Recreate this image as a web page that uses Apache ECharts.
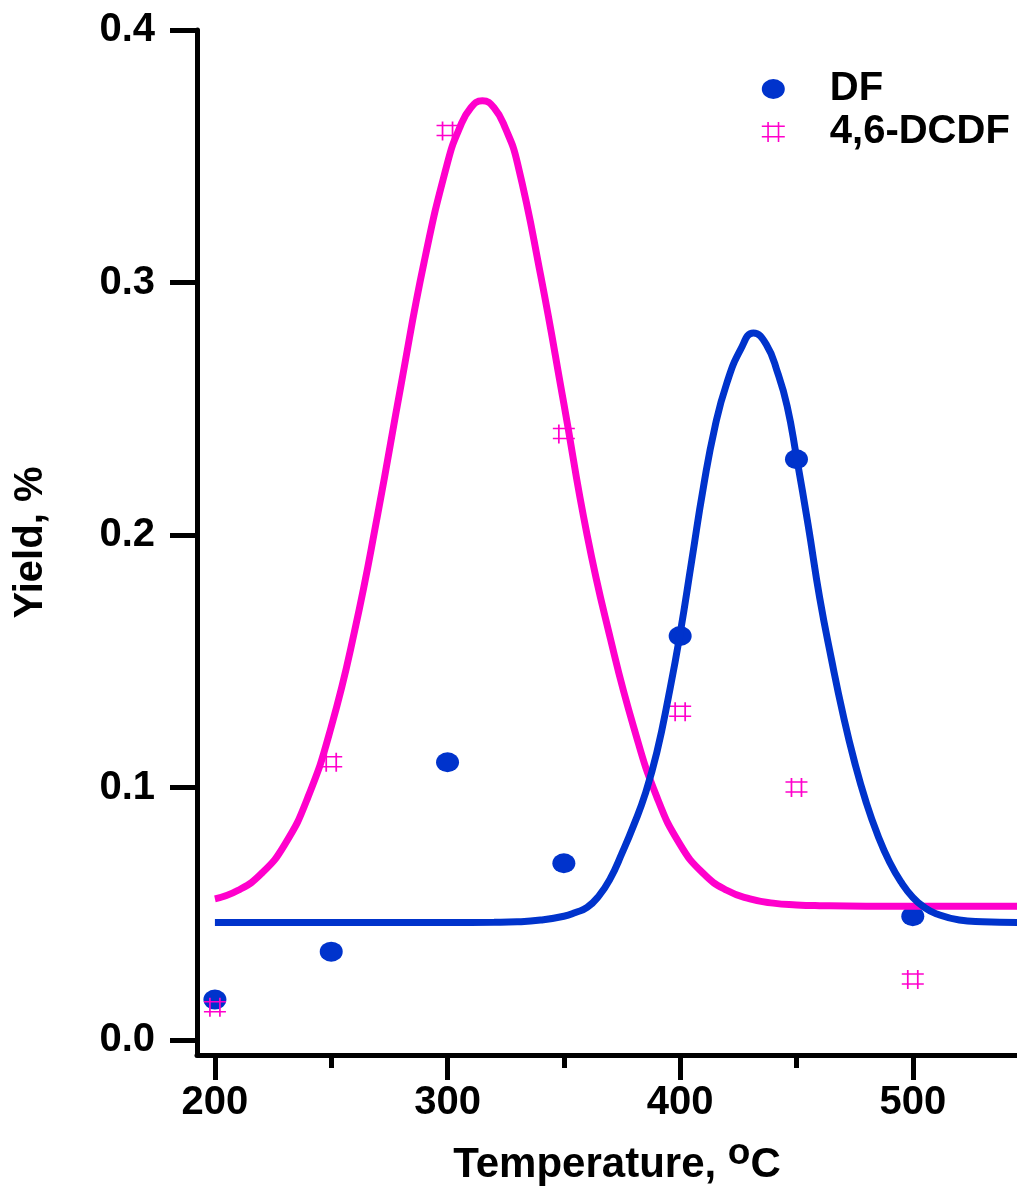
<!DOCTYPE html>
<html>
<head>
	<meta charset="UTF-8">
	<title>Yield vs temperature</title>
	<script src="https://cdn.jsdelivr.net/npm/echarts@6/dist/echarts.min.js"></script>
	<style>
		html, body { margin: 0; padding: 0; background: #fff; }
		#main { width: 1017px; height: 1190px; }
	</style>
</head>
<body>
	<div id="main"></div>
	<script type="text/javascript">
		// measured points
		var tempPoints = [200, 250, 300, 350, 400, 450, 500];
		var dfYield = [0.016, 0.035, 0.110, 0.070, 0.160, 0.230, 0.049];
		var dcdfYield = [0.013, 0.110, 0.360, 0.240, 0.130, 0.100, 0.024];

		// fitted curves
		var dfFitTemp = [200, 300, 320, 330, 340, 350, 355, 360, 365, 370, 375, 380, 385, 390, 395, 400, 405, 410, 415, 420, 426, 431.5, 437, 442, 446, 450, 455, 460, 465, 470, 475, 480, 485, 490, 495, 500, 505, 510, 520, 530, 545];
		var dfFitYield = [0.0465, 0.0465, 0.0466, 0.0468, 0.0475, 0.049, 0.0505, 0.0525, 0.057, 0.064, 0.074, 0.085, 0.0975, 0.114, 0.136, 0.161, 0.190, 0.219, 0.243, 0.260, 0.2735, 0.280, 0.2755, 0.264, 0.251, 0.231, 0.204, 0.175, 0.151, 0.129, 0.110, 0.094, 0.081, 0.0705, 0.0625, 0.0565, 0.0525, 0.050, 0.0475, 0.0468, 0.0465];

		var dcdfFitTemp = [200, 210, 220, 230, 240, 250, 260, 270, 280, 290, 300, 305, 310, 315, 320, 325, 330, 340, 350, 360, 370, 380, 390, 400, 410, 420, 430, 440, 450, 460, 480, 545];
		var dcdfFitYield = [0.0559, 0.0593, 0.0659, 0.0774, 0.0962, 0.124, 0.1618, 0.2083, 0.2594, 0.3084, 0.3475, 0.3608, 0.3692, 0.372, 0.3692, 0.3608, 0.3475, 0.303, 0.252, 0.200, 0.159, 0.124, 0.0962, 0.0774, 0.0659, 0.0593, 0.0559, 0.0542, 0.0535, 0.0532, 0.053, 0.053];

		var yTicks = [0, 0.1, 0.2, 0.3, 0.4];
		var xTicks = [200, 300, 400, 500];
		var xMinorTicks = [250, 350, 450];

		var blue = '#0033cc';
		var pink = '#ff00cc';
		var font = '"Liberation Sans", Arial, sans-serif';
		var hashSymbol = 'path://M6,0L6,19M16,0L16,19M0,4L22,4M0,14L22,14';
		var ovalSymbol = 'path://M0,10A11.5,10,0,1,0,23,10A11.5,10,0,1,0,0,10Z';

		function pairs(xs, ys) {
			var out = [];
			for (var i = 0; i < xs.length; i++) {
				out.push([xs[i], ys[i]]);
			}
			return out;
		}

		var chart = echarts.init(document.getElementById('main'));
		var option = {
			animation: false,
			backgroundColor: '#fff',
			grid: { left: 197, right: 0, top: 30, bottom: 135, outerBoundsMode: 'none' },
			legend: {
				orient: 'vertical',
				left: 756,
				top: 64,
				itemWidth: 23,
				itemHeight: 20,
				itemGap: 3,
				symbolKeepAspect: false,
				selectedMode: false,
				textStyle: { fontFamily: font, fontSize: 40, fontWeight: 'bold', color: '#000', lineHeight: 20, padding: [0, 0, 0, 40] },
				data: [
					{ name: 'DF', icon: ovalSymbol, itemStyle: { color: blue, opacity: 1 } },
					{ name: '4,6-DCDF', icon: hashSymbol, itemStyle: { color: 'transparent', borderColor: pink, borderWidth: 1.6, opacity: 1 } }
				]
			},
			xAxis: [
				{
					type: 'value',
					min: 192.3,
					max: 544.8,
					name: 'Temperature, {sup|o}C',
					nameLocation: 'middle',
					nameGap: 80,
					nameMoveOverlap: false,
					nameTextStyle: {
						fontFamily: font, fontSize: 42, fontWeight: 'bold', color: '#000', padding: [0, 0, 0, 20],
						rich: { sup: { fontFamily: font, fontSize: 37, fontWeight: 'bold', color: '#000', padding: [0, 0, 24, 0] } }
					},
					axisLine: { show: true, onZero: false, lineStyle: { color: '#000', width: 5 } },
					axisTick: { show: true, inside: false, length: 25, customValues: xTicks, lineStyle: { color: '#000', width: 5 } },
					axisLabel: { customValues: xTicks, margin: 28, fontFamily: font, fontSize: 40, fontWeight: 'bold', color: '#000' },
					splitLine: { show: false }
				},
				{
					type: 'value',
					position: 'bottom',
					min: 192.3,
					max: 544.8,
					axisLine: { show: false, onZero: false },
					axisTick: { show: true, inside: false, length: 13, customValues: xMinorTicks, lineStyle: { color: '#000', width: 5 } },
					axisLabel: { show: false },
					splitLine: { show: false }
				}
			],
			yAxis: {
				type: 'value',
				min: -0.00594,
				max: 0.4,
				name: 'Yield, %',
				nameLocation: 'middle',
				nameGap: 146,
				nameTextStyle: { fontFamily: font, fontSize: 40, fontWeight: 'bold', color: '#000' },
				axisLine: { show: true, onZero: false, lineStyle: { color: '#000', width: 5 } },
				axisTick: { show: true, inside: false, length: 27, customValues: yTicks, lineStyle: { color: '#000', width: 5 } },
				axisLabel: {
					customValues: yTicks, margin: 42, fontFamily: font, fontSize: 40, fontWeight: 'bold', color: '#000',
					formatter: function (v) { return v.toFixed(1); }
				},
				splitLine: { show: false }
			},
			series: [
				{
					name: 'DF',
					type: 'scatter',
					symbol: 'circle',
					symbolSize: [23, 20],
					itemStyle: { color: blue, opacity: 1 },
					data: pairs(tempPoints, dfYield)
				},
				{
					name: '4,6-DCDF',
					type: 'scatter',
					symbol: hashSymbol,
					symbolSize: [22, 19],
					itemStyle: { color: 'transparent', borderColor: pink, borderWidth: 1.6, opacity: 1 },
					data: pairs(tempPoints, dcdfYield)
				},
				{
					name: 'DCDF fit',
					type: 'line',
					smooth: 0.5,
					showSymbol: false,
					lineStyle: { color: pink, width: 7 },
					itemStyle: { color: pink },
					data: pairs(dcdfFitTemp, dcdfFitYield)
				},
				{
					name: 'DF fit',
					type: 'line',
					smooth: 0.5,
					showSymbol: false,
					lineStyle: { color: blue, width: 7 },
					itemStyle: { color: blue },
					data: pairs(dfFitTemp, dfFitYield)
				}
			]
		};
		chart.setOption(option);
	</script>
</body>
</html>
